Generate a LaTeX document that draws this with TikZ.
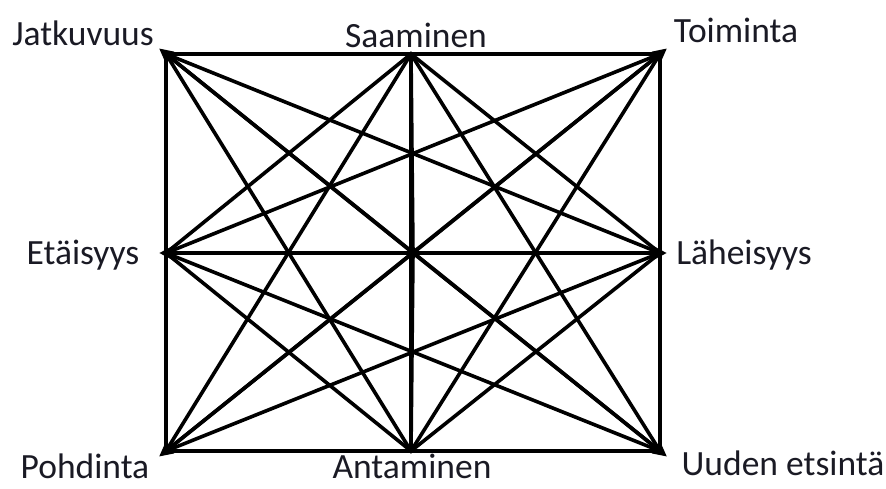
\documentclass[tikz,border=0pt]{standalone}
\usepackage{fontspec}
\setmainfont{Carlito}
\usetikzlibrary{arrows.meta}
\definecolor{txt}{HTML}{1A1A24}
\tikzset{
  link/.style={line width=3.6pt, black},
  tipline/.style={line width=3.6pt, black, -{Triangle[length=14pt,width=13pt]}, shorten >=-9pt},
  smalltip/.style={line width=3.6pt, black, -{Triangle[length=6pt,width=8pt]}, shorten >=-3pt},
  lab/.style={font=\fontsize{35.5}{40}\selectfont, text=txt, inner sep=0pt, anchor=base}
}
\begin{document}
\begin{tikzpicture}[x=1pt,y=-1pt]
\useasboundingbox (0,0) rectangle (886,488);
\coordinate (J) at (166,54);
\coordinate (S) at (411,54);
\coordinate (T) at (660,54);
\coordinate (E) at (166,253);
\coordinate (L) at (660,253);
\coordinate (P) at (166,451);
\coordinate (A) at (411,451);
\coordinate (U) at (660,451);
\coordinate (C) at (413,253);
% all connections
\foreach \a/\b in {J/S,J/T,J/E,J/L,J/P,J/A,J/U,
                   S/T,S/E,S/L,S/P,S/A,S/U,
                   T/E,T/L,T/P,T/A,T/U,
                   E/L,E/P,E/A,E/U,
                   L/P,L/A,L/U,
                   P/A,P/U,
                   A/U}
  \draw[link, line cap=round] (\a) -- (\b);
% arrow tips
\draw[tipline] (C) -- (J);
\draw[tipline] (C) -- (T);
\draw[tipline] (C) -- (P);
\draw[tipline] (C) -- (U);
\draw[tipline, shorten >=-7pt] (C) -- (E);
\draw[tipline, shorten >=-7pt] (C) -- (L);
\draw[smalltip] (C) -- (S);
\draw[smalltip] (C) -- (A);
% labels
\node[lab] (lJ) at (83,45) {Jatkuvuus};
\node[lab] (lS) at (416,47) {Saaminen};
\node[lab] (lT) at (736,42) {Toiminta};
\node[lab] (lE) at (83,264) {Etäisyys};
\node[lab] (lL) at (744,264) {Läheisyys};
\node[lab] (lP) at (85,478) {Pohdinta};
\node[lab] (lA) at (412,478) {Antaminen};
\node[lab] (lU) at (783,475) {Uuden etsintä};
\end{tikzpicture}
\end{document}
